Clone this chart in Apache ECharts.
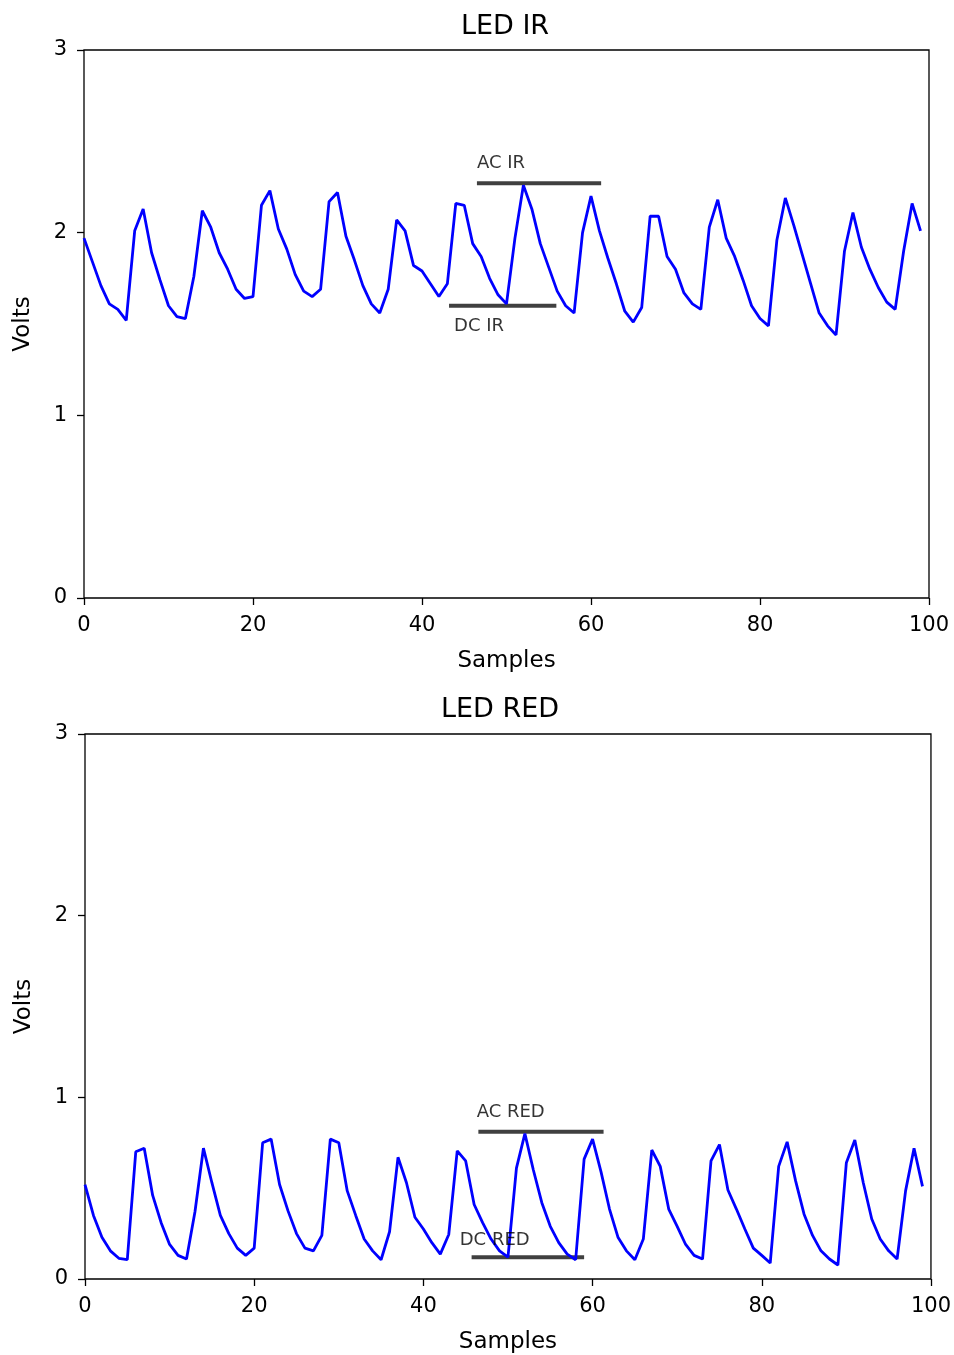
<!DOCTYPE html>
<html>
<head>
<meta charset="utf-8">
<title>LED IR / LED RED</title>
<script src="https://cdn.jsdelivr.net/npm/echarts@6/dist/echarts.min.js"></script>
<style>
  html, body { margin: 0; padding: 0; background: #fff; }
  #chart { width: 954px; height: 1355px; }
</style>
</head>
<body>
<div id="chart"></div>
<script>
// Photoplethysmogram samples from the two LED channels (volts)
const irVolts = [
  1.97, 1.84, 1.71, 1.61, 1.58, 1.52, 2.01, 2.13, 1.89, 1.74,
  1.60, 1.54, 1.53, 1.76, 2.12, 2.03, 1.89, 1.80, 1.69, 1.64,
  1.65, 2.15, 2.23, 2.02, 1.91, 1.77, 1.68, 1.65, 1.69, 2.17,
  2.22, 1.98, 1.85, 1.71, 1.61, 1.56, 1.69, 2.07, 2.01, 1.82,
  1.79, 1.72, 1.65, 1.72, 2.16, 2.15, 1.94, 1.87, 1.75, 1.66,
  1.61, 1.97, 2.26, 2.13, 1.94, 1.81, 1.68, 1.60, 1.56, 2.00,
  2.20, 2.01, 1.86, 1.72, 1.57, 1.51, 1.59, 2.09, 2.09, 1.87,
  1.80, 1.67, 1.61, 1.58, 2.03, 2.18, 1.97, 1.87, 1.74, 1.60,
  1.53, 1.49, 1.96, 2.19, 2.04, 1.88, 1.72, 1.56, 1.49, 1.44,
  1.90, 2.11, 1.92, 1.80, 1.70, 1.62, 1.58, 1.90, 2.16, 2.01
];
const redVolts = [
  0.52, 0.35, 0.23, 0.155, 0.114, 0.106, 0.70, 0.72, 0.46, 0.31,
  0.19, 0.13, 0.11, 0.37, 0.72, 0.53, 0.35, 0.25, 0.17, 0.13,
  0.17, 0.75, 0.77, 0.52, 0.375, 0.25, 0.17, 0.155, 0.24, 0.77,
  0.75, 0.485, 0.35, 0.22, 0.155, 0.106, 0.26, 0.67, 0.53, 0.34,
  0.275, 0.20, 0.137, 0.245, 0.705, 0.65, 0.41, 0.31, 0.22, 0.155,
  0.12, 0.61, 0.80, 0.60, 0.42, 0.29, 0.20, 0.137, 0.106, 0.66,
  0.77, 0.59, 0.385, 0.23, 0.155, 0.106, 0.22, 0.71, 0.62, 0.385,
  0.29, 0.19, 0.13, 0.11, 0.65, 0.74, 0.49, 0.385, 0.275, 0.17,
  0.13, 0.088, 0.62, 0.755, 0.54, 0.357, 0.24, 0.155, 0.11, 0.077,
  0.64, 0.765, 0.53, 0.33, 0.22, 0.155, 0.11, 0.485, 0.72, 0.51
];

// AC / DC reference levels: [xStart, xEnd, level]
const acIrBar  = [46.5, 61.2, 2.27];
const dcIrBar  = [43.2, 55.9, 1.60];
const acRedBar = [46.5, 61.3, 0.81];
const dcRedBar = [45.7, 59.0, 0.12];

// Annotation text anchors: [x, y, text] (bottom-left of text)
const irNotes  = [[46.5, 2.33, 'AC IR'], [43.8, 1.44, 'DC IR']];
const redNotes = [[46.3, 0.87, 'AC RED'], [44.3, 0.165, 'DC RED']];

const xTicks = { min: 0, max: 100, step: 20 };
const yTicks = { min: 0, max: 3, step: 1 };
const titles = ['LED IR', 'LED RED'];

const FONT = 'DejaVu Sans';
const toPairs = arr => arr.map((v, i) => [i, v]);

function axisPair(idx) {
  const common = {
    gridIndex: idx,
    type: 'value',
    nameLocation: 'middle',
    nameTextStyle: { fontFamily: FONT, fontSize: 23, color: '#000' },
    axisLine: { show: false },
    axisTick: { show: true, length: 7, lineStyle: { color: '#000', width: 1.3 } },
    axisLabel: { fontFamily: FONT, fontSize: 21, color: '#000' },
    splitLine: { show: false }
  };
  return {
    x: Object.assign({}, common, {
      min: xTicks.min, max: xTicks.max, interval: xTicks.step,
      name: 'Samples', nameGap: 52,
      axisLabel: Object.assign({}, common.axisLabel, { margin: 17 })
    }),
    y: Object.assign({}, common, {
      min: yTicks.min, max: yTicks.max, interval: yTicks.step,
      name: 'Volts', nameGap: 49,
      axisLabel: Object.assign({}, common.axisLabel, { margin: 17 })
    })
  };
}

const a0 = axisPair(0), a1 = axisPair(1);

function barSeries(idx, bar) {
  return {
    type: 'line', xAxisIndex: idx, yAxisIndex: idx,
    data: [[bar[0], bar[2]], [bar[1], bar[2]]],
    symbol: 'none', silent: true, z: 2,
    lineStyle: { color: '#404040', width: 4 }
  };
}
function noteSeries(idx, notes) {
  return {
    type: 'scatter', xAxisIndex: idx, yAxisIndex: idx,
    symbolSize: 0, silent: true, z: 4,
    data: notes.map(n => ({ value: [n[0], n[1]], name: n[2] })),
    label: {
      show: true, position: [0, 0], align: 'left', verticalAlign: 'bottom',
      formatter: p => p.name,
      fontFamily: FONT, fontSize: 18, color: '#000'
    }
  };
}
function signalSeries(idx, values) {
  return {
    type: 'line', xAxisIndex: idx, yAxisIndex: idx,
    data: toPairs(values), symbol: 'none', silent: true, z: 3,
    lineStyle: { color: '#0000ff', width: 2.8 }
  };
}

const titleStyle = { fontFamily: FONT, fontSize: 27, fontWeight: 'normal', color: '#000' };

const option = {
  animation: false,
  backgroundColor: '#fff',
  title: [
    { text: titles[0], left: 500, top: 8, textAlign: 'center', textStyle: titleStyle },
    { text: titles[1], left: 495, top: 691, textAlign: 'center', textStyle: titleStyle }
  ],
  grid: [
    { left: 84, top: 50, width: 845, height: 548, show: true, borderColor: '#000', borderWidth: 1.3, backgroundColor: 'transparent' },
    { left: 85, top: 734, width: 846, height: 546, show: true, borderColor: '#000', borderWidth: 1.3, backgroundColor: 'transparent' }
  ],
  xAxis: [a0.x, a1.x],
  yAxis: [a0.y, a1.y],
  series: [
    barSeries(0, acIrBar), barSeries(0, dcIrBar),
    signalSeries(0, irVolts), noteSeries(0, irNotes),
    barSeries(1, acRedBar), barSeries(1, dcRedBar),
    signalSeries(1, redVolts), noteSeries(1, redNotes)
  ]
};

const chart = echarts.init(document.getElementById('chart'), null, { renderer: 'canvas' });
chart.setOption(option);
</script>
</body>
</html>
